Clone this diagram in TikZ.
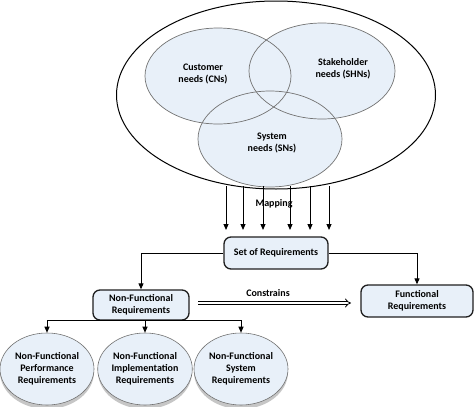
\documentclass[tikz,border=0pt]{standalone}
\usepackage{fontspec}
\setmainfont{Carlito}
\usetikzlibrary{arrows.meta,shapes.geometric}
\definecolor{lblue}{rgb}{0.91,0.94,0.975}
\definecolor{edge}{rgb}{0.12,0.12,0.12}
\tikzset{
  txt/.style={font=\fontsize{10}{12}\selectfont\bfseries, align=center, text=black},
  vline/.style={draw=black!55, line width=0.7pt},
  rbox/.style={draw=edge, line width=1.3pt, rounded corners=7pt, fill=lblue, txt},
  bell/.style={ellipse, draw=black!55, fill=lblue, line width=0.6pt, txt, inner sep=0pt},
  arr/.style={-{Triangle[length=6pt,width=5pt]}, line width=1pt, draw=black},
}
\begin{document}
\begin{tikzpicture}[x=1pt,y=-1pt]
\useasboundingbox (0,0) rectangle (474,407);
% big ellipse
\node[ellipse, draw=black, line width=1pt, minimum width=319, minimum height=188, inner sep=0pt] (big) at (276,95) {};
% venn circles
\fill[lblue] (218,76) ellipse (73 and 48);
\fill[lblue] (322,71) ellipse (73 and 48);
\fill[lblue] (270,139) ellipse (72 and 48);
\draw[vline] (218,76) ellipse (73 and 48);
\draw[vline] (322,71) ellipse (73 and 48);
\draw[vline] (270,139) ellipse (72 and 48);
\node[txt] (tcn) at (203,74) {Customer\\needs (CNs)};
\node[txt] (tshn) at (343,69) {Stakeholder\\needs (SHNs)};
\node[txt] (tsn) at (272,143) {System\\needs (SNs)};
% set of requirements
\node[rbox, minimum width=104, minimum height=32] (set) at (276,253) {Set of Requirements};
% mapping arrows
\foreach \x [count=\i] in {226,243,263,290,310,329} {
  \coordinate (m\i) at (\x,186);
  \coordinate (e\i) at (\x,230);
  \draw[arr] (m\i) -- (e\i);
}
\node[txt] (map) at (274,204) {Mapping};
% NF and F boxes
\node[rbox, minimum width=96, minimum height=30] (nf) at (141,305) {Non-Functional\\Requirements};
\node[rbox, minimum width=112, minimum height=32] (fr) at (417,301) {Functional\\Requirements};
\draw[arr] (set.west) -| (nf.north);
\draw[arr] (set.east) -| (fr.north);
% constrains
\coordinate (c1) at (198,303);
\coordinate (c2) at (351,303);
\draw[double distance=2.2pt, line width=0.8pt, -{Implies}] (c1) -- (c2);
\node[txt] (ctext) at (268,293) {Constrains};
% bottom ellipses
\foreach \n/\x/\t in {p/47/{Non-Functional\\Performance\\Requirements}, i/145/{Non-Functional\\Implementation\\Requirements}, s/241/{Non-Functional\\System\\Requirements}} {
  \fill[gray!45] (\x,372) ellipse (47 and 37);
  \node[bell, minimum width=94, minimum height=72] (b\n) at (\x,369) {\t};
}
\coordinate (split) at (141,320);
\coordinate (mid) at (145,320);
\draw[line width=1pt] (nf.south) -- (split);
\draw[arr] (split) -| (bp.north);
\draw[arr] (mid) -- (bi.north);
\draw[arr] (split) -| (bs.north);
\end{tikzpicture}
\end{document}
